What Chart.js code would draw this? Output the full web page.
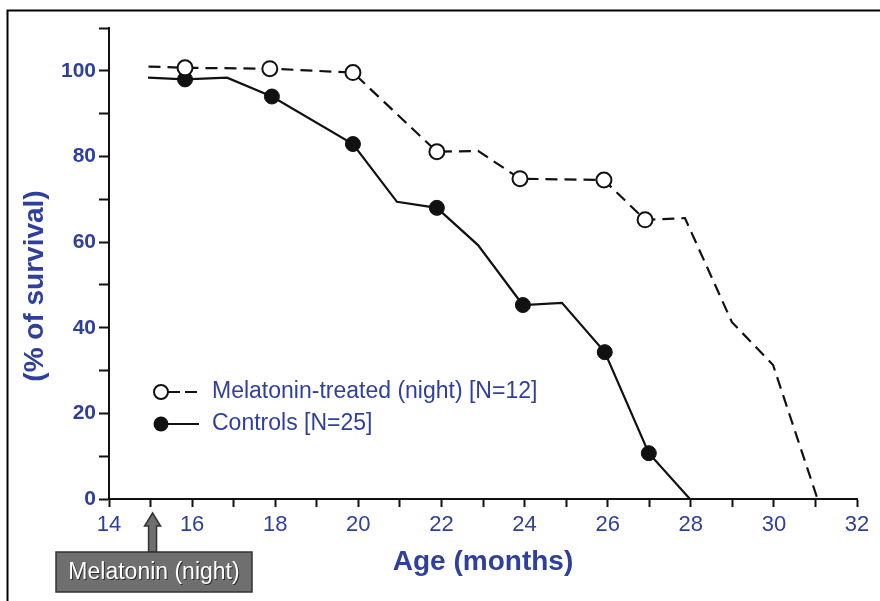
<!DOCTYPE html>
<html>
<head>
<meta charset="utf-8">
<script src="https://cdn.jsdelivr.net/npm/chart.js@4/dist/chart.umd.min.js"></script>
<style>
  body { margin: 0; background: #fff; }
  #wrap { width: 880px; height: 601px; position: relative; }
</style>
</head>
<body>
<div id="wrap"><canvas id="chart"></canvas></div>
<script>
// survival curves (age in months, % survival)
var treatedAge      = [14.95, 15.83, 17.87, 19.87, 21.89, 22.88, 23.89, 25.91, 26.90, 27.86, 28.99, 29.98, 31.05];
var treatedSurvival = [101.0, 100.7, 100.5, 99.6,  81.1,  81.3,  74.8,  74.5,  65.2,  65.6,  41.3,  31.3,  0];
var treatedObserved = [false, true,  true,  true,  true,  false, true,  true,  true,  false, false, false, false];

var controlAge      = [14.94, 15.83, 16.84, 17.92, 19.87, 20.93, 21.89, 22.88, 23.96, 24.90, 25.93, 26.99, 27.98];
var controlSurvival = [98.4,  98.0,  98.4,  94.0,  82.9,  69.4,  68.0,  59.3,  45.3,  45.8,  34.3,  10.7,  0];
var controlObserved = [false, true,  false, true,  true,  false, true,  false, true,  false, true,  true,  false];

var seriesNames = ['Melatonin-treated (night) [N=12]', 'Controls [N=25]'];
var xTitle = 'Age (months)';
var yTitle = '(% of survival)';
var startLabel = 'Melatonin (night)';
var startAge = 15;

var blue = '#2f3f9d';
var ink = '#111';
var fontFamily = '"Liberation Sans", Arial, sans-serif';

function toPoints(xs, ys) {
    return xs.map(function (x, i) { return { x: x, y: ys[i] }; });
}

var extras = {
    id: 'extras',
    beforeDraw: function (chart) {
        var c = chart.ctx;
        c.save();
        c.strokeStyle = '#000';
        c.lineWidth = 2;
        c.beginPath();
        c.moveTo(7.5, 602);
        c.lineTo(7.5, 10.5);
        c.lineTo(880, 10.5);
        c.stroke();
        c.restore();
    },
    afterDraw: function (chart) {
        var c = chart.ctx;
        var xs = chart.scales.x;
        c.save();

        // y axis title
        c.translate(35, 286);
        c.rotate(-Math.PI / 2);
        c.fillStyle = blue;
        c.font = 'bold 28px ' + fontFamily;
        c.textAlign = 'center';
        c.textBaseline = 'middle';
        c.fillText(yTitle, 0, 0);
        c.setTransform(1, 0, 0, 1, 0, 0);

        // legend
        var rows = [392, 424];
        c.font = '23px ' + fontFamily;
        c.textAlign = 'left';
        c.lineWidth = 2;
        c.strokeStyle = ink;
        c.beginPath();
        c.setLineDash([12, 5]);
        c.moveTo(168, rows[0]); c.lineTo(199, rows[0]);
        c.stroke();
        c.setLineDash([]);
        c.beginPath();
        c.moveTo(168, rows[1]); c.lineTo(199, rows[1]);
        c.stroke();
        c.beginPath();
        c.arc(161, rows[0], 7, 0, Math.PI * 2);
        c.fillStyle = '#fff'; c.fill(); c.stroke();
        c.beginPath();
        c.arc(161, rows[1], 7.5, 0, Math.PI * 2);
        c.fillStyle = ink; c.fill();
        c.fillStyle = blue;
        c.fillText(seriesNames[0], 212, rows[0]);
        c.fillText(seriesNames[1], 212, rows[1]);

        // start of treatment arrow + box
        var ax = xs.getPixelForValue(startAge) + 2;
        var tip = 513, headBase = 526, boxTop = 552;
        c.fillStyle = '#6f6f6f';
        c.strokeStyle = '#333';
        c.lineWidth = 1.5;
        c.beginPath();
        c.moveTo(ax, tip);
        c.lineTo(ax + 8, headBase);
        c.lineTo(ax + 4, headBase);
        c.lineTo(ax + 4, boxTop);
        c.lineTo(ax - 4, boxTop);
        c.lineTo(ax - 4, headBase);
        c.lineTo(ax - 8, headBase);
        c.closePath();
        c.fill(); c.stroke();
        c.fillRect(56, 552, 196, 40);
        c.strokeRect(56, 552, 196, 40);
        c.fillStyle = '#fff';
        c.font = '23px ' + fontFamily;
        c.textAlign = 'center';
        c.shadowColor = 'rgba(0,0,0,0.6)';
        c.shadowOffsetX = 1;
        c.shadowOffsetY = 1;
        c.fillText(startLabel, 154, 573);
        c.restore();
    }
};

var ctx = document.getElementById('chart').getContext('2d');
var chart = new Chart(ctx, {
    type: 'line',
    data: {
        datasets: [
            {
                label: seriesNames[0],
                data: toPoints(treatedAge, treatedSurvival),
                borderColor: ink,
                borderWidth: 2.2,
                borderDash: [12, 7],
                pointRadius: treatedObserved.map(function (o) { return o ? 7.5 : 0; }),
                pointBackgroundColor: '#fff',
                pointBorderColor: ink,
                pointBorderWidth: 2,
                tension: 0
            },
            {
                label: seriesNames[1],
                data: toPoints(controlAge, controlSurvival),
                borderColor: ink,
                borderWidth: 2.2,
                pointRadius: controlObserved.map(function (o) { return o ? 7.5 : 0; }),
                pointBackgroundColor: ink,
                pointBorderColor: ink,
                pointBorderWidth: 1,
                tension: 0
            }
        ]
    },
    options: {
        responsive: true,
        maintainAspectRatio: false,
        animation: false,
        layout: { padding: { left: 0, right: 23, top: 28, bottom: 0 } },
        plugins: {
            legend: { display: false },
            tooltip: { enabled: false }
        },
        scales: {
            x: {
                type: 'linear',
                min: 14,
                max: 32,
                afterFit: function (s) { s.height = 102; },
                grid: { drawOnChartArea: false, drawTicks: true, tickLength: 8, tickWidth: 2, color: ink },
                border: { display: true, color: ink, width: 2 },
                ticks: {
                    stepSize: 1,
                    autoSkip: false,
                    maxRotation: 0,
                    padding: 5,
                    color: blue,
                    font: { family: fontFamily, size: 22 },
                    callback: function (v) { return v % 2 === 0 ? v : ''; }
                },
                title: {
                    display: true,
                    text: xTitle,
                    color: blue,
                    font: { family: fontFamily, size: 28, weight: 'bold' },
                    padding: { top: 0, bottom: 22 }
                }
            },
            y: {
                min: 0,
                max: 110,
                afterFit: function (s) { s.width = 109; },
                grid: { drawOnChartArea: false, drawTicks: true, tickLength: 10, tickWidth: 2, color: ink },
                border: { display: true, color: ink, width: 2 },
                ticks: {
                    stepSize: 10,
                    padding: 3,
                    color: blue,
                    font: { family: fontFamily, size: 21, weight: 'bold' },
                    callback: function (v) { return v % 20 === 0 ? v : ''; }
                }
            }
        }
    },
    plugins: [extras]
});
</script>
</body>
</html>
